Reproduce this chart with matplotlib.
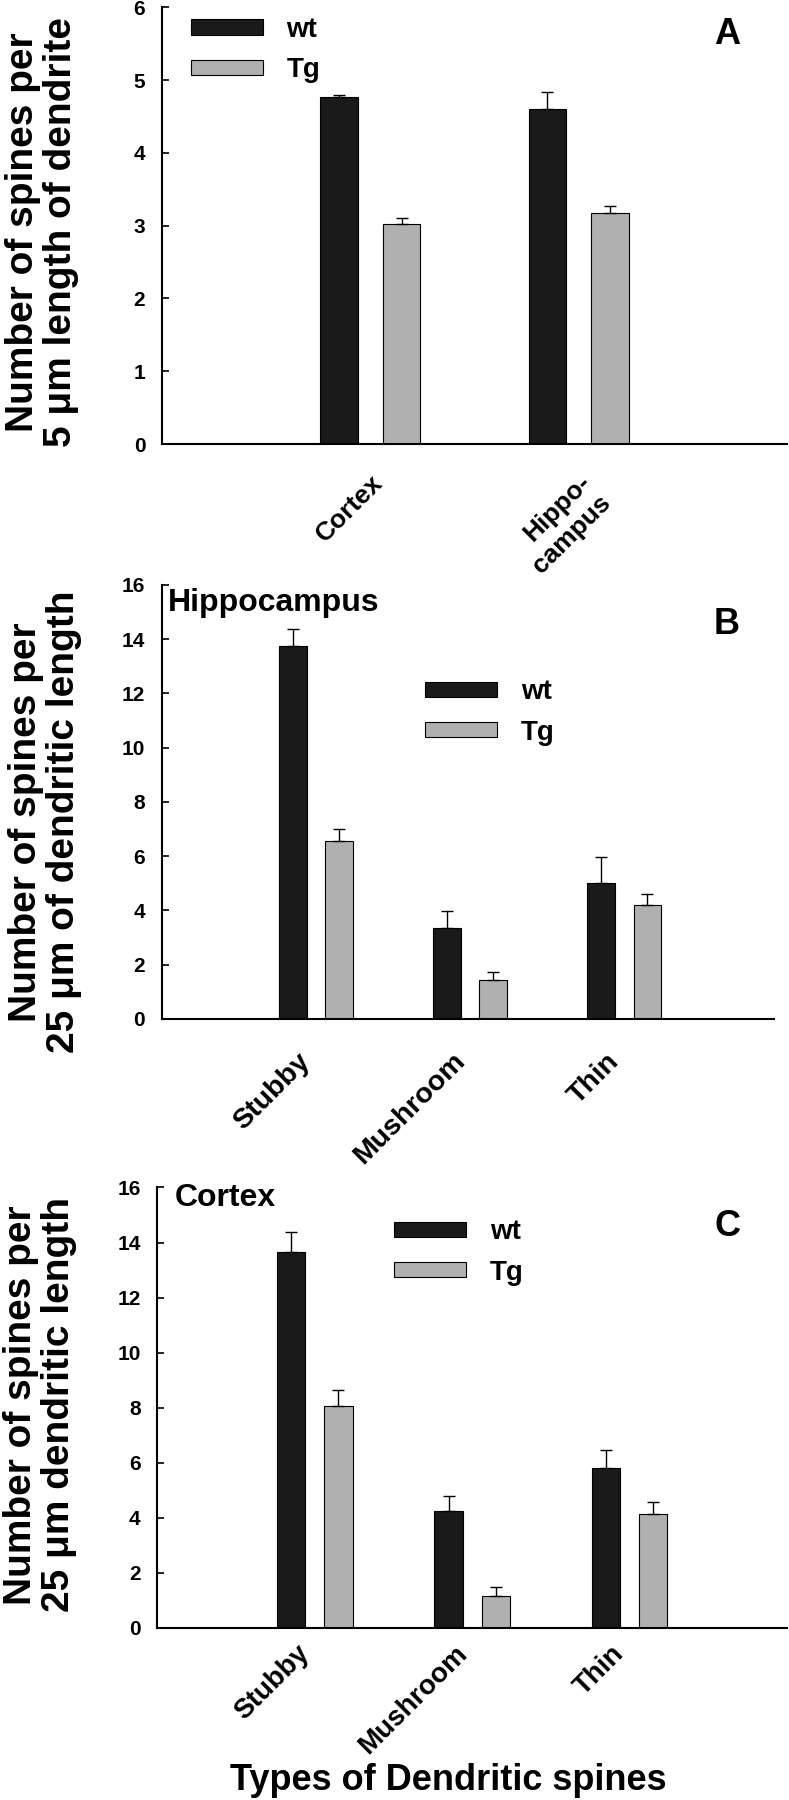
import numpy as np
import matplotlib
matplotlib.use("Agg")
import matplotlib.pyplot as plt

plt.rcParams["font.family"] = ["Liberation Sans", "DejaVu Sans"]
plt.rcParams["font.weight"] = "bold"

WT_COLOR = "#1a1a1a"
TG_COLOR = "#b0b0b0"

# (A) spines per 5 um, by brain region
regions = ["Cortex", "Hippo-\ncampus"]
a_wt = [4.77, 4.61]
a_wt_err = [0.02, 0.23]
a_tg = [3.02, 3.17]
a_tg_err = [0.09, 0.10]

# (B) hippocampus, spines per 25 um by spine type
spine_types = ["Stubby", "Mushroom", "Thin"]
b_wt = [13.75, 3.37, 5.03]
b_wt_err = [0.63, 0.60, 0.94]
b_tg = [6.58, 1.44, 4.21]
b_tg_err = [0.42, 0.31, 0.40]

# (C) cortex, spines per 25 um by spine type
c_wt = [13.66, 4.23, 5.82]
c_wt_err = [0.72, 0.55, 0.66]
c_tg = [8.06, 1.17, 4.15]
c_tg_err = [0.58, 0.31, 0.43]

W, H = 789, 1800


def fx(px):
    return px / W


def fy(py):
    return 1 - py / H


def draw_panel(ax, cats, wt, wt_err, tg, tg_err, ymax, ystep, xmax, leg_xy,
               rot_mode, xpad, xfs):
    x = np.arange(1, len(cats) + 1)
    zeros = np.zeros(len(cats))
    ekw = dict(ecolor="black", elinewidth=1.0, capsize=4.3, capthick=1.0)
    ax.bar(x - 0.15, wt, 0.18, color=WT_COLOR, edgecolor="black", linewidth=0.8,
           yerr=[zeros, wt_err], error_kw=ekw, label="wt")
    ax.bar(x + 0.15, tg, 0.18, color=TG_COLOR, edgecolor="black", linewidth=0.8,
           yerr=[zeros, tg_err], error_kw=ekw, label="Tg")
    ax.set_xlim(0, xmax)
    ax.set_ylim(0, ymax)
    ax.set_yticks(np.arange(0, ymax + 0.01, ystep))
    ax.set_xticks(x)
    ax.set_xticklabels(cats, rotation=45, ha="right", va="top",
                       rotation_mode=rot_mode, fontsize=xfs)
    ax.tick_params(axis="x", length=0, pad=xpad)
    ax.tick_params(axis="y", direction="in", length=5, width=1.2, pad=12,
                   labelsize=15)
    for s in ("top", "right"):
        ax.spines[s].set_visible(False)
    for s in ("left", "bottom"):
        ax.spines[s].set_linewidth(1.5)
    ax.legend(loc="upper left", bbox_to_anchor=leg_xy, frameon=False,
              fontsize=20, handlelength=2.6, handleheight=0.47,
              handletextpad=0.85, labelspacing=0.52, borderpad=0,
              borderaxespad=0)


fig = plt.figure(figsize=(7.89, 18.0), dpi=100)

ax_a = fig.add_axes([0.2053, 0.7533, 0.7922, 0.2426])
ax_b = fig.add_axes([0.2049, 0.4339, 0.7760, 0.2411])
ax_c = fig.add_axes([0.1994, 0.0956, 0.7980, 0.2447])

draw_panel(ax_a, regions, a_wt, a_wt_err, a_tg, a_tg_err, 6, 1, 3,
           (0.046, 0.978), "anchor", 19, 19)
draw_panel(ax_b, spine_types, b_wt, b_wt_err, b_tg, b_tg_err, 16, 2, 3.97,
           (0.43, 0.783), "default", 21, 20.5)
draw_panel(ax_c, spine_types, c_wt, c_wt_err, c_tg, c_tg_err, 16, 2, 4,
           (0.376, 0.928), "default", 9, 20)

ylab_kw = dict(rotation=90, ha="center", va="center", fontsize=28,
               fontweight="bold", multialignment="center", linespacing=1.05)
fig.text(fx(42), fy(232), "Number of spines per\n5 \u03bcm length of dendrite", **ylab_kw)
fig.text(fx(45), fy(822), "Number of spines per\n25 \u03bcm of dendritic length", **ylab_kw)
fig.text(fx(40), fy(1405), "Number of spines per\n25 \u03bcm dendritic length", **ylab_kw)

for letter, py in (("A", 34), ("B", 625), ("C", 1227)):
    fig.text(fx(727), fy(py), letter, ha="center", va="center",
             fontsize=26, fontweight="bold")

fig.text(fx(168), fy(588), "Hippocampus", ha="left", va="top",
         fontsize=23, fontweight="bold")
fig.text(fx(175), fy(1183), "Cortex", ha="left", va="top",
         fontsize=23, fontweight="bold")

fig.text(fx(448), fy(1780), "Types of Dendritic spines", ha="center",
         va="center", fontsize=26, fontweight="bold")

fig.savefig("out.png", dpi=100)
